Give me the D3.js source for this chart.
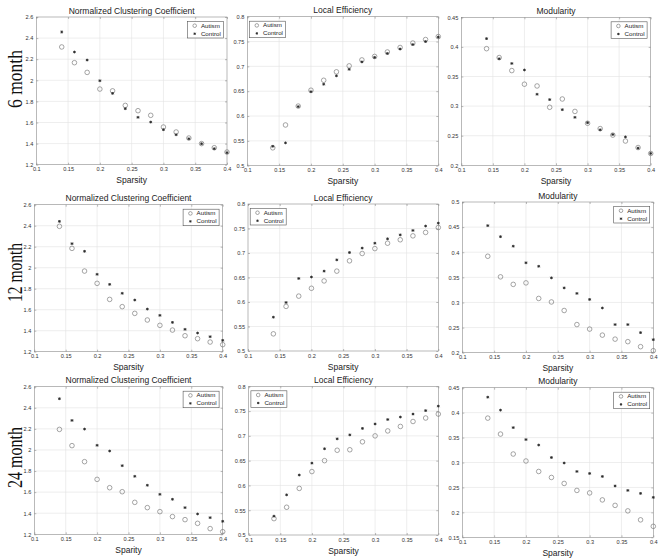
<!DOCTYPE html>
<html>
<head>
<meta charset="utf-8">
<script src="https://cdn.jsdelivr.net/npm/d3@7"></script>
<style>
  html, body { margin: 0; padding: 0; background: #fff; }
  svg { display: block; }
  text { font-family: Arial, "Liberation Sans", Helvetica, sans-serif; }
</style>
</head>
<body>
<script>
// ---------------- DATA ----------------
const sparsity = [0.14, 0.16, 0.18, 0.20, 0.22, 0.24, 0.26, 0.28, 0.30, 0.32, 0.34, 0.36, 0.38, 0.40];
const xTicks = [0.1, 0.15, 0.2, 0.25, 0.3, 0.35, 0.4];
const nccTicks = [1.2, 1.4, 1.6, 1.8, 2, 2.2, 2.4, 2.6];
const leTicks = [0.5, 0.55, 0.6, 0.65, 0.7, 0.75, 0.8];
const mod6Ticks = [0.2, 0.25, 0.3, 0.35, 0.4, 0.45];
const mod12Ticks = [0.2, 0.25, 0.3, 0.35, 0.4, 0.45, 0.5];
const mod24Ticks = [0.15, 0.2, 0.25, 0.3, 0.35, 0.4, 0.45];

const seriesNames = ["Autism", "Control"];
const rowLabels = ["6 month", "12 month", "24 month"];
const panelTitles = ["Normalized Clustering Coefficient", "Local Efficiency", "Modularity"];

// 6 month
const ncc6Autism  = [2.316, 2.167, 2.075, 1.917, 1.900, 1.762, 1.712, 1.668, 1.557, 1.510, 1.453, 1.400, 1.361, 1.320];
const ncc6Control = [2.458, 2.268, 2.192, 1.996, 1.876, 1.731, 1.649, 1.604, 1.532, 1.484, 1.446, 1.399, 1.352, 1.314];
const le6Autism   = [0.536, 0.582, 0.620, 0.652, 0.672, 0.689, 0.701, 0.713, 0.720, 0.729, 0.738, 0.747, 0.754, 0.760];
const le6Control  = [0.539, 0.546, 0.619, 0.649, 0.664, 0.681, 0.694, 0.709, 0.718, 0.726, 0.735, 0.744, 0.750, 0.759];
const mod6Autism  = [0.397, 0.382, 0.360, 0.337, 0.334, 0.298, 0.312, 0.291, 0.271, 0.262, 0.251, 0.241, 0.230, 0.220];
const mod6Control = [0.414, 0.380, 0.372, 0.361, 0.320, 0.311, 0.294, 0.281, 0.272, 0.260, 0.252, 0.248, 0.229, 0.220];

// 12 month
const ncc12Autism  = [2.394, 2.184, 1.968, 1.851, 1.698, 1.629, 1.565, 1.502, 1.451, 1.406, 1.352, 1.324, 1.292, 1.267];
const ncc12Control = [2.441, 2.229, 2.156, 1.937, 1.841, 1.756, 1.692, 1.606, 1.546, 1.479, 1.413, 1.378, 1.343, 1.308];
const le12Autism   = [0.535, 0.591, 0.612, 0.628, 0.643, 0.663, 0.684, 0.699, 0.709, 0.720, 0.727, 0.735, 0.742, 0.752];
const le12Control  = [0.569, 0.599, 0.648, 0.651, 0.663, 0.686, 0.701, 0.710, 0.720, 0.729, 0.737, 0.746, 0.755, 0.761];
const mod12Autism  = [0.392, 0.351, 0.336, 0.339, 0.308, 0.301, 0.284, 0.256, 0.247, 0.235, 0.227, 0.222, 0.212, 0.204];
const mod12Control = [0.453, 0.431, 0.412, 0.379, 0.372, 0.349, 0.329, 0.318, 0.306, 0.289, 0.256, 0.256, 0.240, 0.226];

// 24 month
const ncc24Autism  = [2.195, 2.041, 1.889, 1.721, 1.642, 1.604, 1.503, 1.453, 1.415, 1.368, 1.339, 1.304, 1.254, 1.225];
const ncc24Control = [2.486, 2.280, 2.198, 2.044, 1.990, 1.851, 1.750, 1.665, 1.579, 1.532, 1.453, 1.393, 1.358, 1.323];
const le24Autism   = [0.533, 0.556, 0.594, 0.628, 0.650, 0.671, 0.672, 0.688, 0.700, 0.710, 0.719, 0.729, 0.736, 0.744];
const le24Control  = [0.538, 0.581, 0.621, 0.645, 0.674, 0.694, 0.702, 0.715, 0.724, 0.733, 0.738, 0.744, 0.751, 0.760];
const mod24Autism  = [0.389, 0.357, 0.317, 0.303, 0.282, 0.270, 0.258, 0.244, 0.239, 0.225, 0.214, 0.203, 0.185, 0.172];
const mod24Control = [0.431, 0.405, 0.370, 0.346, 0.335, 0.310, 0.299, 0.282, 0.278, 0.272, 0.253, 0.244, 0.238, 0.230];

// ---------------- LAYOUT ----------------
const panels = [
  {title:panelTitles[0], xlab:"Sparsity", ticks:nccTicks, a:ncc6Autism, c:ncc6Control, box:[36.3,227,17,164.7], legend:"right"},
  {title:panelTitles[1], xlab:"Sparsity", ticks:leTicks, a:le6Autism, c:le6Control, box:[247.3,438.3,16.7,165.7], legend:"left"},
  {title:panelTitles[2], xlab:"Sparsity", ticks:mod6Ticks, a:mod6Autism, c:mod6Control, box:[461.3,650.7,17.3,165.3], legend:"right"},
  {title:panelTitles[0], xlab:"Sparsity", ticks:nccTicks, a:ncc12Autism, c:ncc12Control, box:[34.3,222.7,204.7,351.7], legend:"right"},
  {title:panelTitles[1], xlab:"Sparsity", ticks:leTicks, a:le12Autism, c:le12Control, box:[248,438.3,204,351], legend:"left"},
  {title:panelTitles[2], xlab:"Sparsity", ticks:mod12Ticks, a:mod12Autism, c:mod12Control, box:[462.3,653.3,202,352.7], legend:"right"},
  {title:panelTitles[0], xlab:"Sparity", ticks:nccTicks, a:ncc24Autism, c:ncc24Control, box:[34.3,222.7,386.7,534.3], legend:"right"},
  {title:panelTitles[1], xlab:"Sparsity", ticks:leTicks, a:le24Autism, c:le24Control, box:[248.7,438.3,386.3,535], legend:"left"},
  {title:panelTitles[2], xlab:"Sparsity", ticks:mod24Ticks, a:mod24Autism, c:mod24Control, box:[462.3,653.3,387.7,537.3], legend:"right"}
];
const rowLabelPos = [{y:79, len:58}, {y:272.5, len:59}, {y:457.5, len:61}];

const W = 666, H = 558;
const svg = d3.select("body").append("svg").attr("width", W).attr("height", H);
svg.append("rect").attr("width", W).attr("height", H).attr("fill", "#fff");

const fmt = d => String(+d.toFixed(3));

const starPath = (s) => {
  const d = s * 0.72;
  return `M${-s},0L${s},0M0,${-s}L0,${s}M${-d},${-d}L${d},${d}M${-d},${d}L${d},${-d}`;
};

panels.forEach(p => {
  const [x0, x1, y0, y1] = p.box;
  const x = d3.scaleLinear().domain([0.1, 0.4]).range([x0, x1]);
  const y = d3.scaleLinear().domain(d3.extent(p.ticks)).range([y1, y0]);
  const g = svg.append("g");

  // grid
  g.append("g").selectAll("line").data(xTicks.slice(1, -1)).join("line")
    .attr("x1", d => x(d)).attr("x2", d => x(d)).attr("y1", y0).attr("y2", y1)
    .attr("stroke", "#e3e3e3").attr("stroke-width", 0.6);
  g.append("g").selectAll("line").data(p.ticks.slice(1, -1)).join("line")
    .attr("y1", d => y(d)).attr("y2", d => y(d)).attr("x1", x0).attr("x2", x1)
    .attr("stroke", "#e3e3e3").attr("stroke-width", 0.6);

  // axes
  const styleAxis = sel => {
    sel.select(".domain").remove();
    sel.selectAll(".tick line").attr("stroke", "#777").attr("stroke-width", 0.5);
    sel.selectAll(".tick text").attr("fill", "#333").style("font-size", "5.6px");
  };
  g.append("g").attr("transform", `translate(0,${y1})`)
    .call(d3.axisBottom(x).tickValues(xTicks).tickFormat(fmt).tickSize(-2).tickPadding(2.6))
    .call(styleAxis);
  g.append("g").attr("transform", `translate(${x0},0)`)
    .call(d3.axisLeft(y).tickValues(p.ticks).tickFormat(fmt).tickSize(-2).tickPadding(3))
    .call(styleAxis);
  g.append("g").attr("transform", `translate(0,${y0})`)
    .call(d3.axisTop(x).tickValues(xTicks).tickFormat("").tickSize(-2))
    .call(styleAxis);
  g.append("g").attr("transform", `translate(${x1},0)`)
    .call(d3.axisRight(y).tickValues(p.ticks).tickFormat("").tickSize(-2))
    .call(styleAxis);

  // box
  g.append("rect").attr("x", x0).attr("y", y0).attr("width", x1 - x0).attr("height", y1 - y0)
    .attr("fill", "none").attr("stroke", "#8a8a8a").attr("stroke-width", 0.6);

  // autism circles
  g.append("g").selectAll("circle").data(sparsity.map((s, i) => [s, p.a[i]])).join("circle")
    .attr("cx", d => x(d[0])).attr("cy", d => y(d[1])).attr("r", 2.3)
    .attr("fill", "none").attr("stroke", "#6a6a6a").attr("stroke-width", 0.6);
  // control stars
  g.append("g").selectAll("path").data(sparsity.map((s, i) => [s, p.c[i]])).join("path")
    .attr("transform", d => `translate(${x(d[0])},${y(d[1])})`)
    .attr("d", starPath(1.4))
    .attr("fill", "none").attr("stroke", "#2a2a2a").attr("stroke-width", 0.85);

  // title
  g.append("text").attr("x", (x0 + x1) / 2).attr("y", y0 - 3.5)
    .attr("text-anchor", "middle").attr("fill", "#222").style("font-size", "8.5px").text(p.title);
  // x label
  g.append("text").attr("x", (x0 + x1) / 2).attr("y", y1 + 18.5)
    .attr("text-anchor", "middle").attr("fill", "#222").style("font-size", "8.5px").text(p.xlab);

  // legend
  const lw = 36, lh = 16.5;
  const lx = p.legend === "right" ? x1 - 3.6 - lw : x0 + 2.2;
  const ly = y0 + 4.5;
  const lg = g.append("g").attr("transform", `translate(${lx},${ly})`);
  lg.append("rect").attr("width", lw).attr("height", lh).attr("fill", "#fff")
    .attr("stroke", "#555").attr("stroke-width", 0.6);
  seriesNames.forEach((name, i) => {
    const cy = 4.2 + i * 8;
    if (i === 0) {
      lg.append("circle").attr("cx", 7.3).attr("cy", cy).attr("r", 1.8)
        .attr("fill", "none").attr("stroke", "#6a6a6a").attr("stroke-width", 0.6);
    } else {
      lg.append("path").attr("transform", `translate(7.3,${cy})`).attr("d", starPath(1.2))
        .attr("fill", "none").attr("stroke", "#2a2a2a").attr("stroke-width", 0.8);
    }
    lg.append("text").attr("x", 13.5).attr("y", cy + 2.1).attr("fill", "#222")
      .style("font-size", "6.2px").text(name);
  });
});

// row labels
rowLabels.forEach((lab, i) => {
  const pos = rowLabelPos[i];
  svg.append("text")
    .attr("transform", `translate(22,${pos.y}) rotate(-90)`)
    .attr("text-anchor", "middle")
    .attr("textLength", pos.len).attr("lengthAdjust", "spacingAndGlyphs")
    .style("font-family", "'Liberation Serif', 'Times New Roman', 'DejaVu Serif', serif")
    .style("font-size", "20px").attr("fill", "#111").text(lab);
});
</script>
</body>
</html>
